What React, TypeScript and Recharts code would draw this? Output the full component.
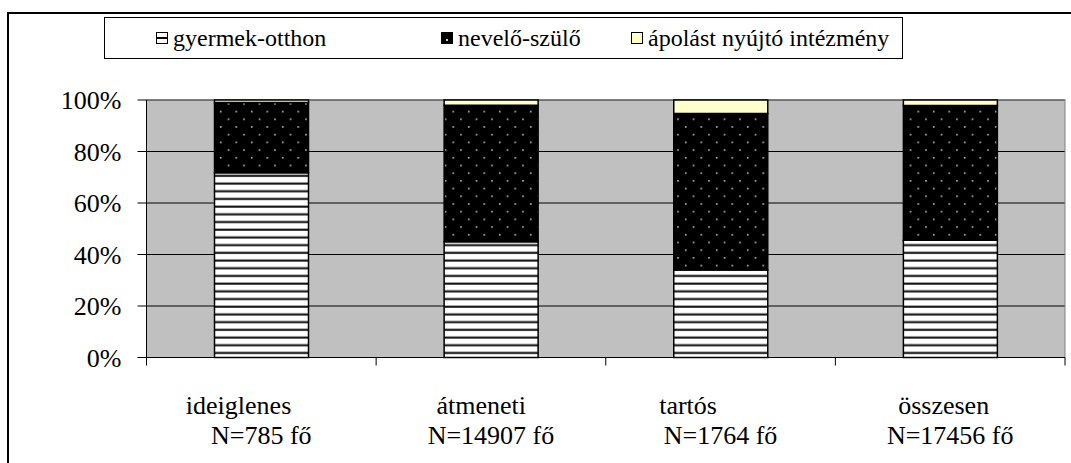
import {
  BarChart, Bar, XAxis, YAxis, CartesianGrid, Legend,
} from 'recharts'

// category labels as typed in the source sheet (trailing spaces shift the first line)
const categories = [
  'ideiglenes\u00a0\u00a0\u00a0\u00a0\u00a0\u00a0\u00a0',
  'átmeneti\u00a0\u00a0\u00a0',
  'tartós\u00a0\u00a0\u00a0\u00a0\u00a0\u00a0\u00a0\u00a0\u00a0\u00a0',
  'összesen\u00a0\u00a0',
]
const sampleSizes = ['N=785 fő', 'N=14907 fő', 'N=1764 fő', 'N=17456 fő']

// shares in percent
const gyermekOtthon = [71.7, 45, 34, 45.5]
const neveloSzulo = [27.3, 53, 60.8, 52.4]
const apolasIntezmeny = [1, 2, 5.2, 2.1]

const yTicks = [0, 20, 40, 60, 80, 100]

const data = categories.map((name, i) => ({
  name,
  gyermek: gyermekOtthon[i],
  nevelo: neveloSzulo[i],
  apolas: apolasIntezmeny[i],
}))

const FONT = 'Liberation Serif'
const BAND = (1065 - 146.5) / categories.length

function CategoryTick({ x, y, index }: { x?: number; y?: number; index?: number; payload?: { value: string } }) {
  if (x == null || y == null || index == null) return null
  const label = categories[index]
  return (
    <g>
      <line x1={x - BAND / 2} y1={y} x2={x - BAND / 2} y2={y + 8} stroke="#000" />
      {index === categories.length - 1 && (
        <line x1={x + BAND / 2} y1={y} x2={x + BAND / 2} y2={y + 8} stroke="#000" />
      )}
      <text x={x} y={y + 56} textAnchor="middle" fontFamily={FONT} fontSize={26} fill="#000">{label}</text>
      <text x={x} y={y + 86} textAnchor="middle" fontFamily={FONT} fontSize={26} fill="#000">{sampleSizes[index]}</text>
    </g>
  )
}

function LegendBox() {
  const icon = { width: 12, height: 12, border: '1px solid #000', boxSizing: 'border-box' as const, display: 'inline-block', flex: 'none' }
  const item = (left: number) => ({
    position: 'absolute' as const, left, top: 0, height: '100%',
    display: 'flex', alignItems: 'center', gap: 5, whiteSpace: 'nowrap' as const,
  })
  return (
    <div style={{
      position: 'relative', width: '100%', height: '100%', border: '1px solid #000',
      boxSizing: 'border-box', background: '#fff', fontFamily: FONT, fontSize: 24, color: '#000',
    }}>
      <div style={item(51)}>
        <span style={{ ...icon, background: 'linear-gradient(#fff 0 4px, #000 4px 6px, #fff 6px)' }} />
        <span>gyermek-otthon</span>
      </div>
      <div style={item(336)}>
        <span style={{ ...icon, background: '#000', position: 'relative' }}>
          <span style={{ position: 'absolute', left: 4, top: 6, width: 2, height: 2, background: '#ccc' }} />
        </span>
        <span>nevelő-szülő</span>
      </div>
      <div style={item(526)}>
        <span style={{ ...icon, background: '#ffffcc' }} />
        <span>ápolást nyújtó intézmény</span>
      </div>
    </div>
  )
}

export default function App() {
  return (
    <div style={{ position: 'absolute', left: 0, top: 0, width: 1071, height: 463, overflow: 'hidden', background: '#fff' }}>
      <div style={{
        position: 'absolute', left: 7, top: 12, width: 1100, height: 500,
        border: '2px solid #000',
      }} />
      <BarChart
        width={1071}
        height={463}
        data={data}
        margin={{ top: 100, right: 6, bottom: 5.5, left: 0 }}
        style={{ position: 'absolute', left: 0, top: 0 }}
      >
        <defs>
          <pattern id="hStripes" patternUnits="userSpaceOnUse" width={8} height={7.7}>
            <rect width={8} height={7.7} fill="#fff" />
            <rect y={5.4} width={8} height={2.1} fill="#111" />
          </pattern>
          <pattern id="dots" patternUnits="userSpaceOnUse" width={15.5} height={15.4}>
            <rect width={15.5} height={15.4} fill="#000" />
            <rect x={3} y={3} width={1.5} height={1.5} fill="#d8d8d8" />
            <rect x={10.75} y={10.7} width={1.5} height={1.5} fill="#d8d8d8" />
          </pattern>
        </defs>
        <CartesianGrid vertical={false} stroke="#000" fill="#c0c0c0" />
        <XAxis
          dataKey="name"
          tick={<CategoryTick />}
          tickLine={false}
          tickSize={0}
          tickMargin={0}
          height={100}
          axisLine={{ stroke: '#000' }}
          interval={0}
        />
        <YAxis
          domain={[0, 100]}
          ticks={yTicks}
          tickFormatter={v => `${v}%`}
          width={146.5}
          tickSize={9}
          tickMargin={16}
          tick={{ fontFamily: FONT, fontSize: 26, fill: '#000' }}
          tickLine={{ stroke: '#000' }}
          axisLine={{ stroke: '#000' }}
        />
        <Legend
          layout="vertical"
          verticalAlign="middle"
          align="center"
          content={<LegendBox />}
          wrapperStyle={{ left: 104, top: 17, width: 799, height: 42 }}
        />
        <rect x={146.5} y={100} width={918.5} height={257.5} fill="none" stroke="#808080" />
        <Bar dataKey="gyermek" stackId="a" barSize={94} fill="url(#hStripes)" stroke="#000" strokeWidth={1.5} isAnimationActive={false} />
        <Bar dataKey="nevelo" stackId="a" barSize={94} fill="url(#dots)" stroke="#000" strokeWidth={1.5} isAnimationActive={false} />
        <Bar dataKey="apolas" stackId="a" barSize={94} fill="#ffffcc" stroke="#000" strokeWidth={1.5} isAnimationActive={false} />
      </BarChart>
    </div>
  )
}
